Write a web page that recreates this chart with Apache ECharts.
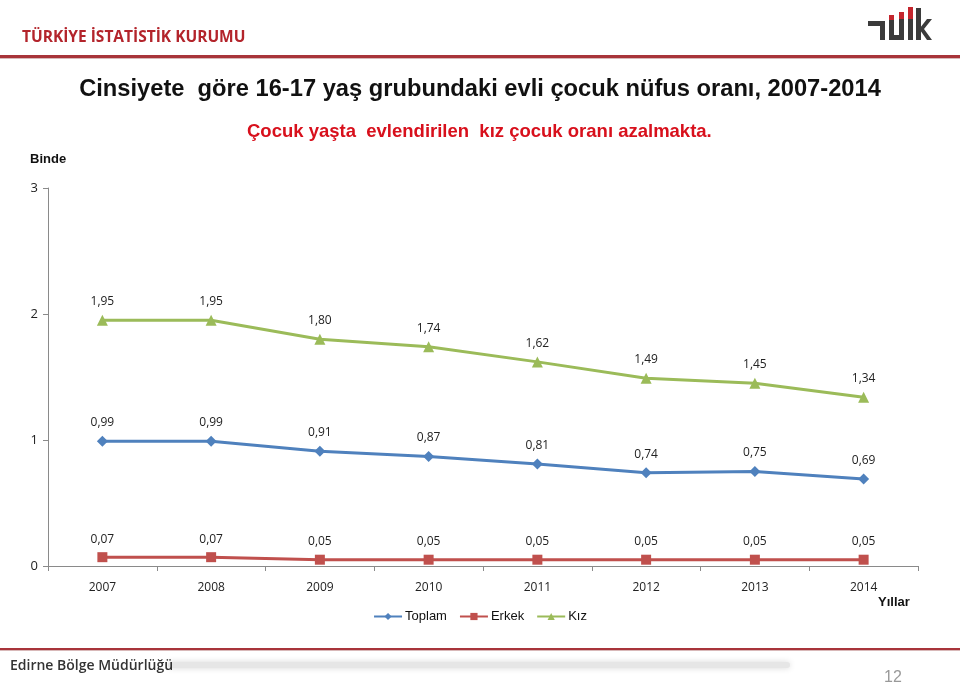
<!DOCTYPE html>
<html>
<head>
<meta charset="utf-8">
<script src="https://cdn.jsdelivr.net/npm/echarts@6/dist/echarts.min.js"></script>
<style>
  html, body { margin: 0; padding: 0; background: #fff; }
  #main { width: 960px; height: 684px; }
</style>
</head>
<body>
<div id="main"></div>
<script>
// veriler
const years = ['2007', '2008', '2009', '2010', '2011', '2012', '2013', '2014'];
const toplam = [0.99, 0.99, 0.91, 0.87, 0.81, 0.74, 0.75, 0.69];
const erkek = [0.07, 0.07, 0.05, 0.05, 0.05, 0.05, 0.05, 0.05];
const kiz = [1.95, 1.95, 1.80, 1.74, 1.62, 1.49, 1.45, 1.34];

let myChart = echarts.init(document.getElementById('main'));

// virgüllü etiket
function fmt(p) {
  return p.value.toFixed(2).replace('.', ',');
}

function makeSeries(name, data, color, symbol, size) {
  return {
    name: name,
    type: 'line',
    data: data,
    symbol: symbol,
    symbolSize: size,
    lineStyle: { color: color, width: 3 },
    itemStyle: { color: color },
    label: {
      show: true,
      position: 'top',
      distance: 7,
      formatter: fmt,
      color: '#222',
      fontFamily: 'Open Sans',
      fontSize: 12
    },
    emphasis: { disabled: true }
  };
}

const dark = '#3b3b3b';
const red = '#C4262E';

let option = {
  animation: false,
  backgroundColor: '#fff',
  textStyle: { fontFamily: 'Liberation Sans' },
  grid: { left: 48, right: 42, top: 188, bottom: 118 },
  legend: {
    top: 605,
    left: 'center',
    itemWidth: 28,
    itemHeight: 9,
    itemGap: 12,
    textStyle: { fontSize: 13, color: '#111', fontFamily: 'Liberation Sans', padding: [0, 0, 0, -2] },
    data: ['Toplam', 'Erkek', 'Kız']
  },
  xAxis: {
    type: 'category',
    data: years,
    boundaryGap: true,
    axisLine: { lineStyle: { color: '#8a8a8a' } },
    axisTick: { show: true, length: 5, lineStyle: { color: '#8a8a8a' } },
    axisLabel: { color: '#222', fontSize: 12, margin: 16, fontFamily: 'Open Sans' }
  },
  yAxis: {
    type: 'value',
    min: 0,
    max: 3,
    interval: 1,
    splitLine: { show: false },
    axisLine: { show: true, lineStyle: { color: '#8a8a8a' } },
    axisTick: { show: true, length: 5, lineStyle: { color: '#8a8a8a' } },
    axisLabel: { color: '#222', fontSize: 13, margin: 10, fontFamily: 'Open Sans' }
  },
  series: [
    makeSeries('Toplam', toplam, '#4F81BD', 'diamond', 11),
    makeSeries('Erkek', erkek, '#C0504D', 'rect', 10),
    makeSeries('Kız', kiz, '#9BBB59', 'triangle', 11)
  ],
  graphic: [
    // üst başlık
    { type: 'text', left: 22, top: 30, style: { text: 'TÜRKİYE İSTATİSTİK KURUMU', fill: '#B3242B', font: 'bold 15.5px "Open Sans"' } },
    // logo
    { type: 'rect', shape: { x: 868, y: 21, width: 17, height: 5 }, style: { fill: dark } },
    { type: 'rect', shape: { x: 880, y: 21, width: 5, height: 19 }, style: { fill: dark } },
    { type: 'rect', shape: { x: 889, y: 20, width: 5, height: 20 }, style: { fill: dark } },
    { type: 'rect', shape: { x: 899, y: 19, width: 5, height: 21 }, style: { fill: dark } },
    { type: 'rect', shape: { x: 889, y: 35, width: 15, height: 5 }, style: { fill: dark } },
    { type: 'rect', shape: { x: 889, y: 15, width: 5, height: 5 }, style: { fill: red } },
    { type: 'rect', shape: { x: 899, y: 12, width: 5, height: 7 }, style: { fill: red } },
    { type: 'rect', shape: { x: 908, y: 19, width: 5, height: 21 }, style: { fill: dark } },
    { type: 'rect', shape: { x: 908, y: 7, width: 5, height: 12 }, style: { fill: red } },
    { type: 'rect', shape: { x: 916, y: 8, width: 5, height: 32 }, style: { fill: dark } },
    { type: 'polygon', shape: { points: [[920, 28], [927, 19], [932, 19], [924, 29], [932, 40], [927, 40], [920, 30]] }, style: { fill: dark } },
    { type: 'rect', shape: { x: 0, y: 55, width: 960, height: 3 }, style: { fill: '#A8343A' } },
    { type: 'rect', shape: { x: 0, y: 58, width: 960, height: 1 }, style: { fill: '#d8b8b8' } },
    // başlıklar
    { type: 'text', left: 'center', top: 77, style: { text: 'Cinsiyete  göre 16-17 yaş grubundaki evli çocuk nüfus oranı, 2007-2014', fill: '#111', font: 'bold 23.7px "Liberation Sans"' } },
    { type: 'text', left: 247, top: 122, style: { text: 'Çocuk yaşta  evlendirilen  kız çocuk oranı azalmakta.', fill: '#D8101C', font: 'bold 18.5px "Liberation Sans"' } },
    { type: 'text', left: 30, top: 153, style: { text: 'Binde', fill: '#111', font: 'bold 13px "Liberation Sans"' } },
    { type: 'text', left: 878, top: 596, style: { text: 'Yıllar', fill: '#111', font: 'bold 13px "Liberation Sans"' } },
    // alt bilgi
    { type: 'rect', shape: { x: 0, y: 648, width: 960, height: 2 }, style: { fill: '#A8343A' } },
    { type: 'rect', shape: { x: 0, y: 650, width: 960, height: 1 }, style: { fill: '#d8b8b8' } },
    { type: 'rect', shape: { x: 168, y: 662, width: 622, height: 6, r: 3 }, style: { fill: '#e6e6e6', shadowBlur: 6, shadowColor: '#d8d8d8' } },
    { type: 'text', left: 10, top: 659, style: { text: 'Edirne Bölge Müdürlüğü', fill: '#333', font: '600 14px "Open Sans"' } },
    { type: 'text', left: 884, top: 670, style: { text: '12', fill: '#999', font: '16px "Liberation Sans"' } }
  ]
};

myChart.setOption(option);
</script>
</body>
</html>
